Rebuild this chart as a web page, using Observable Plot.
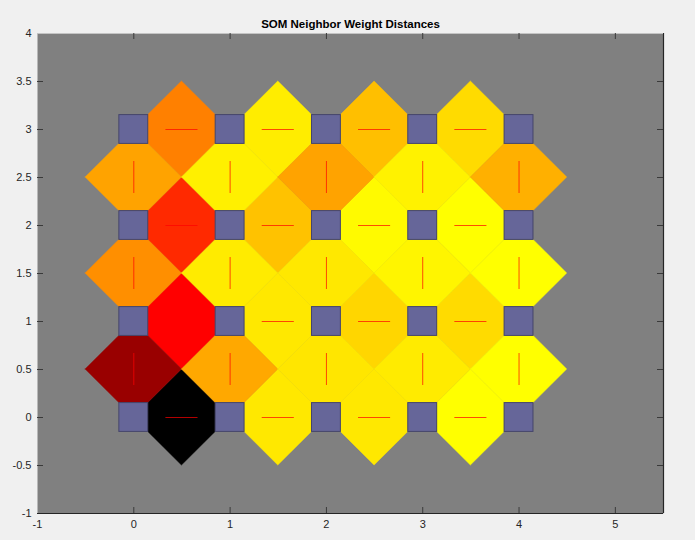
<!DOCTYPE html>
<html>
<head>
<meta charset="utf-8">
<script src="https://cdn.jsdelivr.net/npm/d3@7"></script>
<script src="https://cdn.jsdelivr.net/npm/@observablehq/plot@0.6"></script>
<style>
  html, body { margin: 0; padding: 0; background: #f0f0f0; }
  #chart svg { display: block; background: #f0f0f0; }
</style>
</head>
<body>
<div id="chart"></div>
<script>
// ---- data ----
const title = "SOM Neighbor Weight Distances";
const gridX = [0, 1, 2, 3, 4];          // neuron columns
const gridY = [0, 1, 2, 3];             // neuron rows
const xTicks = [-1, 0, 1, 2, 3, 4, 5];
const yTicks = [-1, -0.5, 0, 0.5, 1, 1.5, 2, 2.5, 3, 3.5, 4];

// normalized neighbor distances (0 = closest / yellow, 1 = farthest / black)
// horizontal links between (i,row) and (i+1,row), one list per row
const hDist0 = [1.00, 0.045, 0.045, 0.00];
const hDist1 = [0.50, 0.045, 0.080, 0.070];
const hDist2 = [0.42, 0.120, 0.010, 0.000];
const hDist3 = [0.25, 0.035, 0.125, 0.070];
// vertical links between (col,j) and (col,j+1), one list per lower row
const vDist0 = [0.70, 0.170, 0.050, 0.040, 0.000];
const vDist1 = [0.22, 0.040, 0.045, 0.020, 0.000];
const vDist2 = [0.18, 0.030, 0.180, 0.025, 0.155];

// ---- build geometry from the data ----
const hDist = [hDist0, hDist1, hDist2, hDist3];
const vDist = [vDist0, vDist1, vDist2];
const s = 0.15; // half neuron size
const patches = [];
const hLinks = [], vLinks = [];
let id = 0;
hDist.forEach((row, j) => row.forEach((d, i) => {
  const cx = gridX[i] + 0.5, cy = gridY[j];
  [[cx - 0.5 + s, cy - s, cy + s], [cx, cy - 0.5, cy + 0.5], [cx + 0.5 - s, cy - s, cy + s]]
    .forEach(([x, y1, y2]) => patches.push({id, d, x, y1, y2}));
  hLinks.push({x1: cx - 1/6, x2: cx + 1/6, y: cy});
  id++;
}));
vDist.forEach((row, j) => row.forEach((d, i) => {
  const cx = gridX[i], cy = gridY[j] + 0.5;
  [[cx - 0.5, cy, cy], [cx - s, cy - 0.5 + s, cy + 0.5 - s], [cx + s, cy - 0.5 + s, cy + 0.5 - s], [cx + 0.5, cy, cy]]
    .forEach(([x, y1, y2]) => patches.push({id, d, x, y1, y2}));
  vLinks.push({x: cx, y1: cy - 1/6, y2: cy + 1/6});
  id++;
}));
const neurons = gridY.flatMap(y => gridX.map(x => ({x, y})));

const W = 695, H = 540, mT = 33, mB = 27, mL = 37, mR = 32;
const fh = H - mT - mB, fw = W - mL - mR;
const tick = 6;
const axisColor = "#262626";
const linkColor = "#ff0000";

const chart = Plot.plot({
  width: W, height: H,
  marginTop: mT, marginBottom: mB, marginLeft: mL, marginRight: mR,
  style: {fontFamily: "'Liberation Sans', Arial, Helvetica, sans-serif", fontSize: "11px", background: "#f0f0f0"},
  x: {domain: [-1, 5.5], label: null},
  y: {domain: [-1, 4], label: null},
  color: {type: "linear", domain: [0, 0.5, 1], range: ["#ffff00", "#ff0000", "#000000"], interpolate: "rgb"},
  marks: [
    Plot.frame({fill: "#808080", stroke: null}),
    Plot.areaY(patches, {x: "x", y1: "y1", y2: "y2", z: "id", fill: "d", stroke: "d", strokeWidth: 0.5, curve: "linear"}),
    Plot.rect(neurons, {x1: d => d.x - s, x2: d => d.x + s, y1: d => d.y - s, y2: d => d.y + s,
      fill: "#666699", stroke: "#45456a", strokeWidth: 1}),
    Plot.ruleY(hLinks, {x1: "x1", x2: "x2", y: "y", stroke: linkColor, strokeWidth: 0.7}),
    Plot.ruleX(vLinks, {x: "x", y1: "y1", y2: "y2", stroke: linkColor, strokeWidth: 0.7}),
    // box
    Plot.ruleY([-1], {stroke: axisColor, strokeWidth: 1.2}),
    Plot.ruleX([5.5], {stroke: axisColor, strokeWidth: 1.2}),
    Plot.ruleY([4], {stroke: "#c4c4c4", strokeWidth: 1}),
    // inward ticks
    Plot.tickX(xTicks.slice(1), {x: d => d, stroke: "#3a3a3a", insetTop: fh - tick}),
    Plot.tickX(xTicks.slice(1), {x: d => d, stroke: "#3a3a3a", insetBottom: fh - tick}),
    Plot.tickY(yTicks.slice(1, -1), {y: d => d, stroke: "#3a3a3a", insetRight: fw - tick}),
    Plot.tickY(yTicks.slice(1, -1), {y: d => d, stroke: "#3a3a3a", insetLeft: fw - tick}),
    Plot.axisX(xTicks, {tickSize: 0, tickPadding: 7, tickFormat: d => String(d), fill: axisColor, fontSize: 11}),
    Plot.axisY(yTicks, {tickSize: 0, tickPadding: 6, tickFormat: d => String(d), fill: axisColor, fontSize: 11}),
    Plot.text([title], {frameAnchor: "top", dy: -14, fontWeight: "bold", fontSize: 11.5, fill: "#000"})
  ]
});
document.getElementById("chart").append(chart);
</script>
</body>
</html>
